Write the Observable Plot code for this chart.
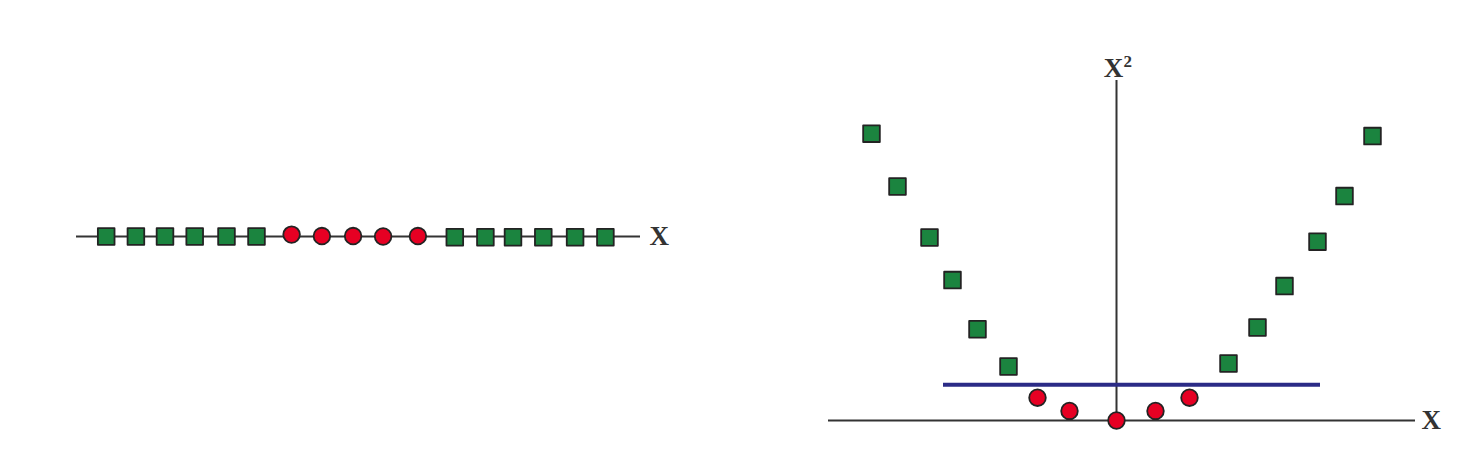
<!DOCTYPE html>
<html>
<head>
<meta charset="utf-8">
<script src="https://cdn.jsdelivr.net/npm/d3@7"></script>
<script src="https://cdn.jsdelivr.net/npm/@observablehq/plot@0.6"></script>
<style>
  html, body { margin: 0; padding: 0; background: #fff; }
  #wrap { position: relative; width: 1470px; height: 472px; overflow: hidden; }
  #left, #right { position: absolute; top: 0; }
  #left { left: 0; }
  #right { left: 735px; }
</style>
</head>
<body>
<div id="wrap"><div id="left"></div><div id="right"></div></div>
<script>
// ---- Left panel: 1-D data on the X line ----
const leftSquaresX = [-8.41, -7.42, -6.45, -5.46, -4.40, -3.40, 3.21, 4.23, 5.15, 6.16, 7.22, 8.23];
const leftSquaresY = [0, 0, 0, 0, 0, 0, -0.003, -0.003, -0.003, -0.003, -0.003, -0.003];
const leftCirclesX = [-2.23, -1.22, -0.18, 0.82, 1.98];
const leftCirclesY = [0.008, 0.002, 0.002, 0, 0.002];
const leftAxisRange = [-9.4, 9.4];
const leftAxisLabel = "X";

// ---- Right panel: data mapped to (X, X²) ----
const rightSquaresX = [-4.90, -4.38, -3.74, -3.28, -2.78, -2.16, 2.24, 2.82, 3.36, 4.02, 4.56, 5.12];
const rightSquaresY = [23.9, 19.5, 15.25, 11.7, 7.6, 4.5, 4.75, 7.75, 11.2, 14.9, 18.7, 23.7];
const rightCirclesX = [-1.58, -0.94, 0, 0.78, 1.46];
const rightCirclesY = [1.9, 0.8, 0, 0.8, 1.9];
const rightXRange = [-5.76, 5.98];
const rightYRange = [0, 28.33];
const separatorY = 2.97;
const separatorX = [-3.46, 4.08];
const rightXLabel = "X";
const rightYLabelBase = "X";
const rightYLabelSup = "2";

const GREEN = "#1b843f", RED = "#e60023", EDGE = "#232323", AXIS = "#333333", BLUE = "#2b2b86";
const FONT = "'Liberation Serif', 'DejaVu Serif', serif";

const leftSquares = leftSquaresX.map((x, i) => ({x, y: leftSquaresY[i]}));
const leftCircles = leftCirclesX.map((x, i) => ({x, y: leftCirclesY[i]}));

const left = Plot.plot({
  width: 735, height: 472,
  marginLeft: 76, marginRight: 95, marginTop: 0, marginBottom: 0,
  x: {domain: leftAxisRange, axis: null},
  y: {domain: [-1, 1], axis: null},
  style: {fontFamily: FONT, background: "transparent"},
  marks: [
    Plot.ruleY([0], {stroke: AXIS, strokeWidth: 2}),
    Plot.dot(leftSquares, {x: "x", y: "y", symbol: "square", r: 9.4, fill: GREEN, stroke: EDGE, strokeWidth: 1.8, strokeLinejoin: "round"}),
    Plot.dot(leftCircles, {x: "x", y: "y", symbol: "circle", r: 8.3, fill: RED, stroke: EDGE, strokeWidth: 1.8}),
    Plot.text([leftAxisLabel], {x: leftAxisRange[1], y: 0, text: d => d, textAnchor: "start", dx: 9, fontSize: 27, fontWeight: "bold", fill: AXIS})
  ]
});
document.getElementById("left").appendChild(left);

const rightSquares = rightSquaresX.map((x, i) => ({x, y: rightSquaresY[i]}));
const rightCircles = rightCirclesX.map((x, i) => ({x, y: rightCirclesY[i]}));

const right = Plot.plot({
  width: 735, height: 472,
  marginLeft: 93, marginRight: 55, marginTop: 80, marginBottom: 52,
  x: {domain: rightXRange, axis: null},
  y: {domain: rightYRange, axis: null},
  style: {fontFamily: FONT, background: "transparent"},
  marks: [
    Plot.ruleY([0], {stroke: AXIS, strokeWidth: 2}),
    Plot.ruleX([0], {stroke: AXIS, strokeWidth: 2}),
    Plot.ruleY([{y: separatorY, x1: separatorX[0], x2: separatorX[1]}], {y: "y", x1: "x1", x2: "x2", stroke: BLUE, strokeWidth: 4}),
    Plot.dot(rightSquares, {x: "x", y: "y", symbol: "square", r: 9.4, fill: GREEN, stroke: EDGE, strokeWidth: 1.8, strokeLinejoin: "round"}),
    Plot.dot(rightCircles, {x: "x", y: "y", symbol: "circle", r: 8.3, fill: RED, stroke: EDGE, strokeWidth: 1.8}),
    Plot.text([rightXLabel], {x: rightXRange[1], y: 0, text: d => d, textAnchor: "start", dx: 6, fontSize: 27, fontWeight: "bold", fill: AXIS}),
    Plot.text([rightYLabelBase], {x: 0, y: rightYRange[1], text: d => d, textAnchor: "middle", lineAnchor: "bottom", dx: -3, dy: -4, fontSize: 27, fontWeight: "bold", fill: AXIS}),
    Plot.text([rightYLabelSup], {x: 0, y: rightYRange[1], text: d => d, textAnchor: "start", lineAnchor: "bottom", dx: 7, dy: -14, fontSize: 17, fontWeight: "bold", fill: AXIS})
  ]
});
document.getElementById("right").appendChild(right);
</script>
</body>
</html>
